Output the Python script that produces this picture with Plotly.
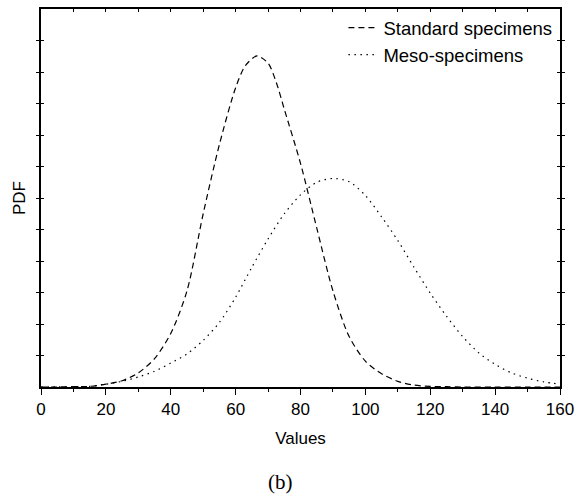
import plotly.graph_objects as go

# x positions (Values)
x_std = [0, 5, 10, 15, 20, 25, 30, 35, 40, 45, 50, 55, 60, 63, 66.6, 70, 72.5, 75, 80, 85, 90, 95, 100, 105, 110, 115, 120, 125, 130, 140, 150, 160]
pdf_std = [0, 0.0, 0.01, 0.02, 0.09, 0.2, 0.45, 0.9, 1.7, 3.05, 5.5, 7.7, 9.5, 10.2, 10.51, 10.28, 9.68, 8.82, 7.1, 5.05, 3.05, 1.6, 0.82, 0.42, 0.18, 0.06, 0.02, 0.01, 0.0, 0.0, 0.0, 0.0]

x_meso = [0, 5, 10, 15, 20, 25, 30, 35, 40, 45, 50, 55, 60, 65, 70, 75, 80, 85, 90, 95, 100, 105, 110, 115, 120, 125, 130, 135, 140, 145, 150, 155, 160]
pdf_meso = [0, 0.005, 0.01, 0.02, 0.09, 0.18, 0.32, 0.5, 0.76, 1.05, 1.48, 2.05, 2.85, 3.8, 4.7, 5.5, 6.1, 6.5, 6.62, 6.52, 6.08, 5.4, 4.65, 3.8, 2.98, 2.25, 1.6, 1.08, 0.72, 0.45, 0.28, 0.16, 0.09]

series_names = ["Standard specimens", "Meso-specimens"]
x_ticks = [0, 20, 40, 60, 80, 100, 120, 140, 160]

fig = go.Figure()
fig.add_trace(go.Scatter(x=x_std, y=pdf_std, mode="lines", name=series_names[0],
                         line=dict(color="black", width=1.2, dash="6px,4px", shape="spline", smoothing=0.8)))
fig.add_trace(go.Scatter(x=x_meso, y=pdf_meso, mode="lines", name=series_names[1],
                         line=dict(color="black", width=1.2, dash="1.5px,4.5px", shape="spline", smoothing=0.8)))
# invisible trace for top axis ticks
fig.add_trace(go.Scatter(x=[], y=[], xaxis="x2", showlegend=False, hoverinfo="skip"))

font_sans = "Liberation Sans, Arial, sans-serif"

fig.update_layout(
    width=576, height=497,
    margin=dict(l=41, r=16, t=9, b=110),
    paper_bgcolor="white", plot_bgcolor="white",
    font=dict(family=font_sans, size=17, color="black"),
    showlegend=True,
    legend=dict(x=0.995, y=1.0, xanchor="right", yanchor="top", bgcolor="rgba(0,0,0,0)",
                font=dict(size=18.5), tracegroupgap=0, itemwidth=30),
    xaxis=dict(range=[0, 160], tickvals=x_ticks, ticks="outside", ticklen=6, tickwidth=1.2,
               tickcolor="black", showgrid=False, zeroline=False, showline=True, linewidth=1.8,
               linecolor="black", mirror=True, automargin=False,
               minor=dict(dtick=10, ticks="outside", ticklen=3, tickwidth=1.2, tickcolor="black", showgrid=False),
               title=dict(text="Values", standoff=14, font=dict(size=17))),
    xaxis2=dict(range=[0, 160], overlaying="x", side="top", dtick=10, ticks="inside", ticklen=3,
                tickwidth=1.2, tickcolor="black", showticklabels=False, showgrid=False,
                zeroline=False, showline=False, automargin=False),
    yaxis=dict(range=[0, 12], dtick=1, ticks="inside", ticklen=3, tickwidth=1.2, tickcolor="black",
               showticklabels=False, showgrid=False, zeroline=False, showline=True, linewidth=1.8,
               linecolor="black", mirror="allticks", automargin=False,
               title=dict(text="PDF", standoff=9, font=dict(size=17))),
    annotations=[dict(text="(b)", x=0.462, y=-0.251, xref="paper", yref="paper",
                      xanchor="center", yanchor="middle", showarrow=False,
                      font=dict(family="Liberation Serif, Times New Roman, serif", size=21, color="black"))],
)

fig.write_html("out.html", config={"displayModeBar": False},
               post_script="document.body.style.margin='0';document.body.style.padding='0';")
